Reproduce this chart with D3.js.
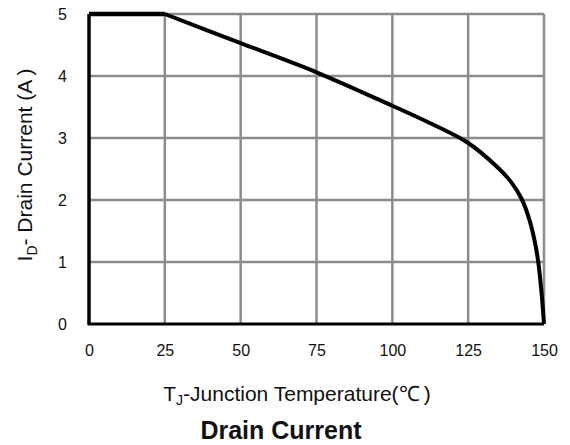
<!DOCTYPE html>
<html>
<head>
<meta charset="utf-8">
<script src="https://cdn.jsdelivr.net/npm/d3@7"></script>
<style>
  body { margin: 0; background: #fff; }
  svg text { font-family: "Liberation Sans", Arial, sans-serif; fill: #111; }
</style>
</head>
<body>
<div id="chart"></div>
<script>
// Curve data
var tempC = [0, 25, 50, 75, 100, 112, 125, 134.4, 139, 142.6, 145.2, 147, 148.1, 149.2, 150];
var drainA = [5, 5, 4.53, 4.06, 3.52, 3.25, 2.92, 2.54, 2.3, 2.02, 1.68, 1.32, 1.0, 0.5, 0];
var xTicks = [0, 25, 50, 75, 100, 125, 150];
var yTicks = [0, 1, 2, 3, 4, 5];

(function drawChart() {
    var width = 570, height = 445;
    var margin = { left: 89, right: 26, top: 14, bottom: 121 };
    var innerW = width - margin.left - margin.right;
    var innerH = height - margin.top - margin.bottom;

    var svg = d3.select('#chart').append('svg')
        .attr('width', width)
        .attr('height', height);

    var g = svg.append('g')
        .attr('transform', 'translate(' + margin.left + ',' + margin.top + ')');

    var x = d3.scaleLinear().domain([0, 150]).range([0, innerW]);
    var y = d3.scaleLinear().domain([0, 5]).range([innerH, 0]);

    // Grid
    g.append('g').attr('class', 'grid')
        .selectAll('line.v').data(xTicks.slice(1)).enter().append('line')
        .attr('x1', function (d) { return x(d); })
        .attr('x2', function (d) { return x(d); })
        .attr('y1', 0).attr('y2', innerH)
        .attr('stroke', '#8c8c8c').attr('stroke-width', 2.5);
    g.append('g').attr('class', 'grid')
        .selectAll('line.h').data(yTicks.slice(1)).enter().append('line')
        .attr('x1', 0).attr('x2', innerW)
        .attr('y1', function (d) { return y(d); })
        .attr('y2', function (d) { return y(d); })
        .attr('stroke', '#8c8c8c').attr('stroke-width', 2.5);

    // Left and bottom axis lines (black)
    g.append('line').attr('x1', 0).attr('x2', 0).attr('y1', y(5)).attr('y2', y(0))
        .attr('stroke', '#000').attr('stroke-width', 3.5);
    g.append('line').attr('x1', -1.5).attr('x2', innerW).attr('y1', y(0)).attr('y2', y(0))
        .attr('stroke', '#000').attr('stroke-width', 3);

    // Tick labels via axes, no tick lines
    var xAxis = d3.axisBottom(x).tickValues(xTicks).tickSize(0).tickPadding(21).tickFormat(d3.format('d'));
    var yAxis = d3.axisLeft(y).tickValues(yTicks).tickSize(0).tickPadding(22).tickFormat(d3.format('d'));

    var gx = g.append('g').attr('transform', 'translate(0,' + innerH + ')').call(xAxis);
    gx.select('.domain').remove();
    gx.selectAll('text').style('font-size', '16px')
        .style('font-family', '"Liberation Sans", Arial, sans-serif').attr('fill', '#111');

    var gy = g.append('g').call(yAxis);
    gy.select('.domain').remove();
    gy.selectAll('text').style('font-size', '16px')
        .style('font-family', '"Liberation Sans", Arial, sans-serif').attr('fill', '#111');

    // The curve: flat part straight, the derating part smooth
    var pts = tempC.map(function (t, i) { return [t, drainA[i]]; });
    var flat = pts.slice(0, 2);
    var derate = pts.slice(1);

    g.append('path').datum(flat)
        .attr('d', d3.line()
            .x(function (d) { return x(d[0]); })
            .y(function (d) { return y(d[1]); }))
        .attr('fill', 'none')
        .attr('stroke', '#000')
        .attr('stroke-width', 4.5);

    g.append('path').datum(derate)
        .attr('d', d3.line()
            .x(function (d) { return x(d[0]); })
            .y(function (d) { return y(d[1]); })
            .curve(d3.curveCatmullRom.alpha(0.5)))
        .attr('fill', 'none')
        .attr('stroke', '#000')
        .attr('stroke-width', 4)
        .attr('stroke-linejoin', 'round');

    // Y axis title
    var yt = svg.append('text')
        .attr('transform', 'translate(32,165) rotate(-90)')
        .attr('text-anchor', 'middle')
        .style('font-size', '21px');
    yt.append('tspan').text('I');
    yt.append('tspan').attr('dy', 5).style('font-size', '14px').text('D');
    yt.append('tspan').attr('dy', -5).text('- Drain Current (A\u2009)');

    // X axis title
    var xt = svg.append('text')
        .attr('x', 297).attr('y', 401)
        .attr('text-anchor', 'middle')
        .style('font-size', '21px');
    xt.append('tspan').text('T');
    xt.append('tspan').attr('dy', 4).style('font-size', '14px').text('J');
    xt.append('tspan').attr('dy', -4).text('-Junction Temperature(\u2103\u2009)');

    // Caption
    svg.append('text')
        .attr('x', 281).attr('y', 439)
        .attr('text-anchor', 'middle')
        .style('font-size', '25px')
        .style('font-weight', 'bold')
        .text('Drain Current');
})();
</script>
</body>
</html>
